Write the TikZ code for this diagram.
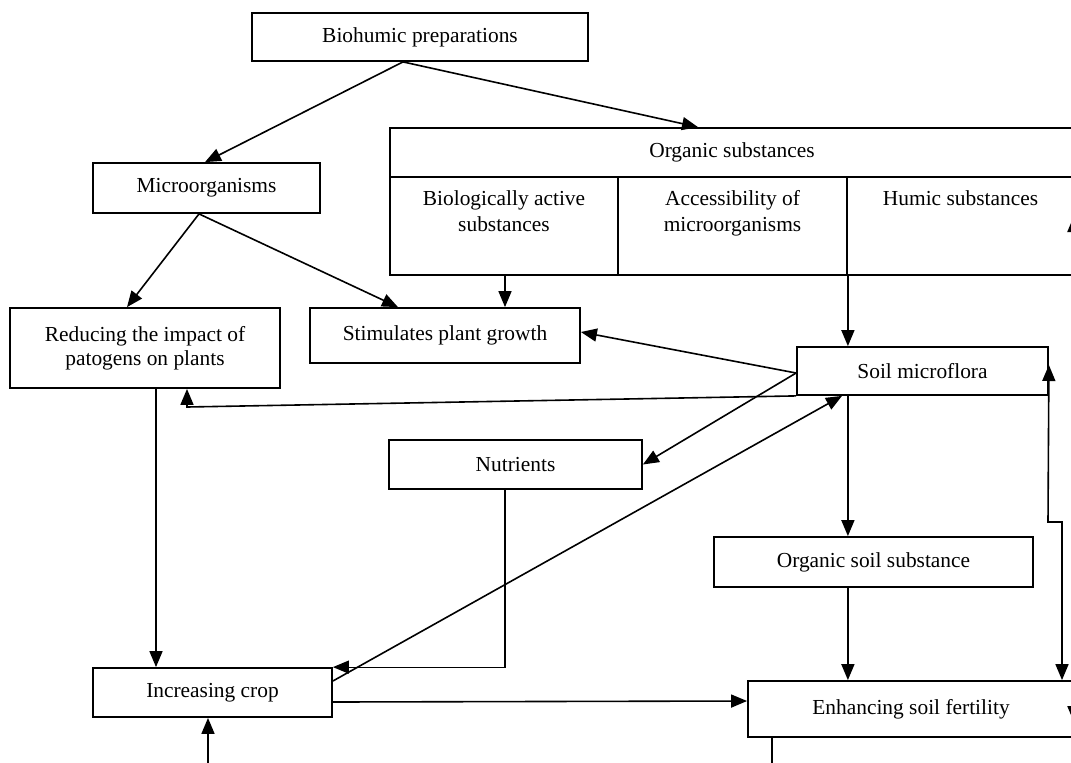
\documentclass[tikz,border=0pt]{standalone}
\usepackage{fontspec}
\setmainfont{Liberation Serif}
\usetikzlibrary{arrows.meta}
\begin{document}
\begin{tikzpicture}[x=0.5pt,y=-0.5pt,
  font=\fontsize{10.7}{12}\selectfont,
  box/.style={draw, line width=0.9pt, rectangle, inner sep=0pt, align=center},
  arr/.style={line width=0.8pt, -{Triangle[length=8pt,width=6.5pt]}},
  darr/.style={line width=0.8pt, {Triangle[length=8pt,width=6.5pt]}-{Triangle[length=8pt,width=6.5pt]}},
  thinln/.style={line width=0.6pt},
  celltext/.style={anchor=north, align=center, inner sep=0pt, yshift=-7pt, font=\fontsize{10.7}{13}\selectfont}
]
\useasboundingbox (0,0) rectangle (1071,762);
\clip (0,0) rectangle (1071,762);

% boxes
\node[box, minimum width=168pt, minimum height=24pt] (bio) at (420,37) {Biohumic preparations};
\node[box, minimum width=113.5pt, minimum height=25pt] (micro) at (206.5,188) {Microorganisms};
\node[box, minimum width=342pt, minimum height=24.5pt] (orgt) at (732,152.5) {Organic substances};
\node[box, minimum width=114pt, minimum height=49pt, label={[celltext]north:{Biologically active\\substances}}] (bas) at (504,226) {};
\node[box, minimum width=114.5pt, minimum height=49pt, label={[celltext]north:{Accessibility of\\microorganisms}}] (acc) at (732.5,226) {};
\node[box, minimum width=113.5pt, minimum height=49pt, label={[celltext]north:{Humic substances}}] (hum) at (960.5,226) {};
\node[box, minimum width=135pt, minimum height=40pt] (red) at (145,348) {Reducing the impact of\\patogens on plants};
\node[box, minimum width=135pt, minimum height=27.5pt] (stim) at (445,335.5) {Stimulates plant growth};
\node[box, minimum width=125.5pt, minimum height=24pt] (soil) at (922.5,371) {Soil microflora};
\node[box, minimum width=126.5pt, minimum height=24.5pt] (nut) at (515.5,464.5) {Nutrients};
\node[box, minimum width=159.5pt, minimum height=25pt] (oss) at (873.5,562) {Organic soil substance};
\node[box, minimum width=119.5pt, minimum height=24.5pt] (crop) at (212.5,692.5) {Increasing crop};
\node[box, minimum width=163pt, minimum height=28pt] (fert) at (911,709) {Enhancing soil fertility};

% free ends and bends
\coordinate (r1) at (187,407);
\coordinate (k1) at (1048,522);
\coordinate (b1) at (772,775);
\coordinate (b2) at (208,775);

% connectors
\draw[arr] ([xshift=-8.5pt]bio.south) -- ([xshift=-0.75pt]micro.north);
\draw[arr] ([xshift=-8.5pt]bio.south) -- ([xshift=-17pt]orgt.north);
\draw[arr] ([xshift=-3.75pt]micro.south) -- ([xshift=-9pt]red.north);
\draw[arr] ([xshift=-3.75pt]micro.south) -- ([xshift=-23.5pt]stim.north);
\draw[arr] ([xshift=0.5pt]bas.south) -- ([xshift=0.5pt]bas.south |- stim.north);
\draw[arr] (acc.south east) -- (acc.south east |- soil.north);
\draw[arr] ([yshift=-1pt]soil.west) -- ([yshift=1.75pt]stim.east);
\draw[arr] ([yshift=-1pt]soil.west) -- (nut.east);
\draw[arr] (soil.south west) -- (r1) -- (r1 |- red.south);
\draw[arr] (acc.south east |- soil.south) -- (acc.south east |- oss.north);
\draw[arr] ([yshift=5.75pt]crop.east) -- ([xshift=-40.25pt]soil.south);
\draw[thinln, -{Triangle[length=8pt,width=6.5pt]}] ([xshift=-5.25pt]nut.south) |- (crop.north east);
\draw[arr] ([xshift=5.5pt]red.south) -- ([xshift=5.5pt]red.south |- crop.north);
\draw[arr] ([yshift=-4.75pt]crop.east) -- ([yshift=4pt]fert.west);
\draw[arr] (acc.south east |- oss.south) -- (acc.south east |- fert.north);
\draw[darr] ([yshift=3pt]soil.east) -- (k1) -| ([xshift=75.5pt]fert.north);
\draw[darr] ([xshift=-0.5pt,yshift=5pt]hum.east) -- ([xshift=-0.5pt,yshift=-6.5pt]fert.east);
\draw[thinln] ([xshift=-69.5pt]fert.south) -- (b1);
\draw[arr] (b2) -- ([xshift=-2.25pt]crop.south);
\end{tikzpicture}
\end{document}
